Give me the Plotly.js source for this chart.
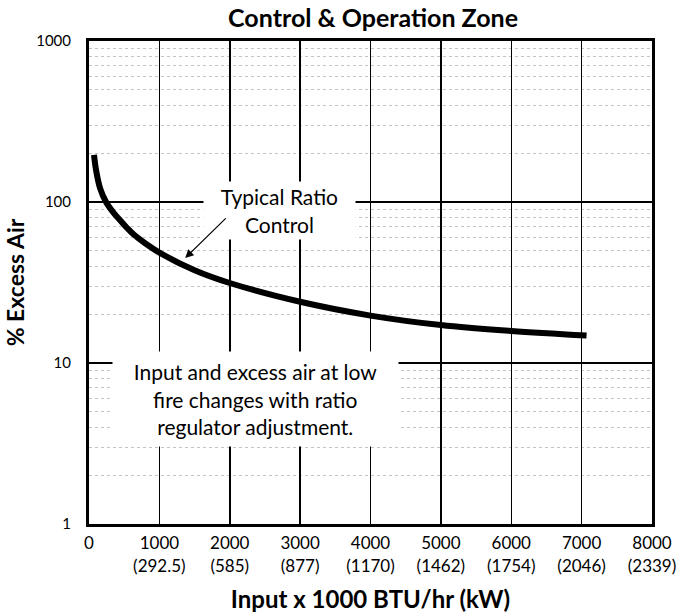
<!DOCTYPE html>
<html>
<head>
<meta charset="utf-8">
<script src="https://cdn.plot.ly/plotly-3.0.1.min.js"></script>
<style>html,body{margin:0;padding:0;background:#fff;}#chart{width:682px;height:615px;}</style>
</head>
<body>
<div id="chart"></div>
<script>
// Data
var inputBTU = [71, 100, 157, 242, 356, 455, 541, 640, 783, 1000, 1500, 2000, 3000, 4000, 5000, 6000, 7070];
var excessAir = [196, 158, 122, 100, 85, 76, 69, 62.5, 56, 48.5, 37.7, 31.4, 24, 19.7, 17.2, 15.8, 14.8];

var xTickVals = [0, 1000, 2000, 3000, 4000, 5000, 6000, 7000, 8000];
var xTickText = ["0", "1000<br>(292.5)", "2000<br>(585)", "3000<br>(877)", "4000<br>(1170)",
                 "5000<br>(1462)", "6000<br>(1754)", "7000<br>(2046)", "8000<br>(2339)"];
var yTickVals = [1, 10, 100, 1000];
var yTickText = ["1", "10", "100", "1000"];

var FONT = "Lato, 'Open Sans', sans-serif";

var trace = {
  x: inputBTU, y: excessAir, type: "scatter", mode: "lines",
  line: {color: "#000", width: 6, shape: "spline", smoothing: 1},
  hoverinfo: "skip", showlegend: false
};

var layout = {
  width: 682, height: 615,
  margin: {l: 89, r: 30, t: 41, b: 91},
  paper_bgcolor: "#fff", plot_bgcolor: "#fff",
  font: {family: FONT, color: "#000", size: 15},
  title: {text: "<b>Control & Operation Zone</b>", font: {family: FONT, size: 25, color: "#000"},
          x: 0.547, xanchor: "center", y: 0.971, yanchor: "middle"},
  xaxis: {
    range: [0, 8000], tickvals: xTickVals, ticktext: xTickText,
    showgrid: true, gridcolor: "#000", gridwidth: 1.5,
    zeroline: false, showline: true, linecolor: "#000", linewidth: 3, mirror: true,
    ticks: "", ticklabelstandoff: 2, tickfont: {size: 17},
    title: {text: "<b>Input x 1000 BTU/hr (kW)</b>", font: {size: 24}, standoff: 17}
  },
  yaxis: {
    type: "log", range: [0, 3], tickvals: yTickVals, ticktext: yTickText,
    showgrid: true, gridcolor: "#000", gridwidth: 2,
    zeroline: false, showline: true, linecolor: "#000", linewidth: 3, mirror: true,
    ticks: "", ticklabelstandoff: 12, tickfont: {size: 15},
    minor: {dtick: "D1", showgrid: true, gridcolor: "#c4c4c4", gridwidth: 1, griddash: "dot", ticks: ""},
    title: {text: "<b>% Excess Air</b>", font: {size: 23}, standoff: 6}
  },
  annotations: [
    {x: 2705, y: 1.95, xref: "x", yref: "y", text: "Typical Ratio<br>Control", showarrow: false,
     font: {size: 21, family: FONT}, bgcolor: "#fff", width: 149, height: 55, align: "center"},
    {x: 1367, y: 1.652, ax: 1964, ay: 1.907, xref: "x", yref: "y", axref: "x", ayref: "y",
     text: "", showarrow: true, arrowhead: 2, arrowsize: 1.4, arrowwidth: 1.2, arrowcolor: "#000"},
    {x: 2369, y: 0.776, xref: "x", yref: "y",
     text: "Input and excess air at low<br>fire changes with ratio<br>regulator adjustment.",
     showarrow: false, font: {size: 21, family: FONT}, bgcolor: "#fff", width: 283, height: 92, align: "center"}
  ]
};

Plotly.newPlot("chart", [trace], layout, {displayModeBar: false, staticPlot: true});
</script>
</body>
</html>
